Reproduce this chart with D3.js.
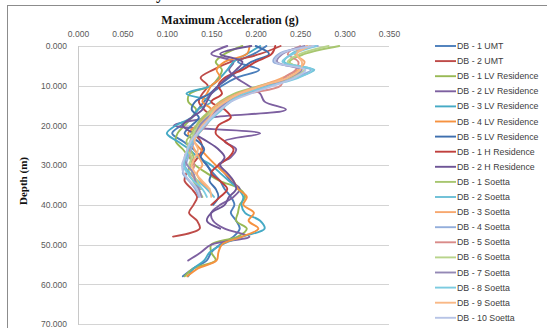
<!DOCTYPE html>
<html>
<head>
<meta charset="utf-8">
<script src="https://cdn.jsdelivr.net/npm/d3@7/dist/d3.min.js"></script>
<style>
  html, body { margin: 0; padding: 0; background: #fff; }
  svg { display: block; }
</style>
</head>
<body>
<svg id="chart" width="547" height="328"></svg>
<script>
// Depth levels (m) at which peak acceleration was sampled
const depths = [0, 2, 4, 6, 8, 10, 12, 14, 16, 18, 20, 22, 24, 26, 28, 30,
                32, 34, 36, 38, 40, 42, 44, 46, 48, 50, 52, 54, 56, 58];

// Maximum acceleration (g) per borehole, one value per depth level
const db1UMT  = [0.212,0.198,0.180,0.204,0.178,0.162,0.150,0.142,0.135,0.128,0.116,0.106,0.118,0.130,0.138,0.145,0.152,0.160,0.165,0.172,0.176,0.172,0.178,0.182,0.175,0.160,0.150,0.145,0.130,0.118];
const db2UMT  = [0.228,0.205,0.172,0.152,0.138,0.146,0.140,0.136,0.142,0.150,0.140,0.132,0.138,0.140,0.135,0.128,0.122,0.120,0.128,0.134,0.130,0.125,0.134,0.137,0.107];
const db1LV   = [0.185,0.165,0.155,0.162,0.158,0.150,0.126,0.124,0.133,0.128,0.120,0.112,0.110,0.118,0.125,0.132,0.145,0.160,0.182,0.188,0.182,0.180,0.178,0.190,0.180,0.150,0.150,0.155,0.130,0.120];
const db2LV   = [0.168,0.150,0.175,0.170,0.178,0.192,0.205,0.210,0.234,0.150,0.108,0.205,0.165,0.178,0.172,0.158,0.165,0.172,0.182,0.175,0.160,0.150,0.152,0.165,0.193,0.150,0.138,0.124];
const db3LV   = [0.205,0.190,0.175,0.168,0.160,0.150,0.122,0.150,0.135,0.128,0.110,0.100,0.112,0.125,0.135,0.150,0.160,0.170,0.180,0.186,0.184,0.188,0.205,0.210,0.185,0.162,0.148,0.142,0.130,0.124];
const db4LV   = [0.193,0.190,0.165,0.156,0.160,0.150,0.145,0.140,0.150,0.142,0.134,0.124,0.130,0.138,0.146,0.155,0.165,0.175,0.180,0.190,0.186,0.198,0.192,0.203,0.185,0.162,0.158,0.156,0.135,0.123];
const db5LV   = [0.200,0.215,0.195,0.182,0.170,0.158,0.148,0.132,0.128,0.136,0.128,0.120,0.135,0.142,0.138,0.145,0.150,0.148,0.155,0.158,0.152];
const db1H    = [0.222,0.218,0.200,0.185,0.165,0.158,0.162,0.150,0.165,0.172,0.158,0.155,0.165,0.175,0.170,0.158,0.150,0.160,0.168,0.160,0.150];
const db2H    = [0.195,0.160,0.185,0.178,0.168,0.158,0.150,0.145,0.140,0.128,0.118,0.130,0.145,0.158,0.165,0.160,0.168,0.175,0.178,0.170,0.165,0.150,0.145,0.160];
const db1S    = [0.294,0.255,0.238,0.250,0.236,0.205,0.176,0.160,0.150,0.140,0.133,0.128,0.122,0.126,0.130,0.127,0.124,0.130,0.135,0.140];
const db2S    = [0.262,0.240,0.232,0.266,0.245,0.212,0.185,0.172,0.160,0.150,0.141,0.132,0.127,0.125,0.122,0.120,0.126,0.135,0.145,0.153];
const db3S    = [0.258,0.244,0.255,0.248,0.230,0.206,0.180,0.162,0.150,0.146,0.138,0.133,0.128,0.131,0.136,0.140,0.134,0.138,0.148];
const db4S    = [0.270,0.226,0.220,0.262,0.242,0.218,0.190,0.168,0.156,0.147,0.139,0.134,0.131,0.127,0.124,0.121,0.118,0.125,0.132,0.136];
const db5S    = [0.250,0.236,0.248,0.245,0.232,0.228,0.192,0.165,0.155,0.150,0.144,0.136,0.129,0.125,0.127,0.131,0.128,0.133,0.138];
const db6S    = [0.282,0.250,0.236,0.255,0.238,0.210,0.183,0.165,0.153,0.144,0.136,0.130,0.126,0.123,0.128,0.125,0.129,0.134,0.139];
const db7S    = [0.255,0.230,0.224,0.252,0.236,0.214,0.186,0.170,0.158,0.146,0.137,0.133,0.128,0.124,0.120,0.123,0.130,0.132,0.136,0.139];
const db8S    = [0.268,0.242,0.230,0.264,0.248,0.216,0.187,0.171,0.162,0.152,0.143,0.136,0.129,0.124,0.121,0.119,0.123,0.130,0.140,0.145];
const db9S    = [0.262,0.246,0.252,0.250,0.236,0.208,0.182,0.166,0.154,0.148,0.140,0.134,0.131,0.135,0.132,0.128,0.132,0.140,0.148,0.150];
const db10S   = [0.265,0.228,0.222,0.256,0.244,0.220,0.194,0.172,0.160,0.150,0.142,0.134,0.127,0.123,0.120,0.117,0.119,0.126,0.134,0.137];

const seriesNames = [
  "DB - 1 UMT", "DB - 2 UMT", "DB - 1 LV Residence", "DB - 2 LV Residence",
  "DB - 3 LV Residence", "DB - 4 LV Residence", "DB - 5 LV Residence",
  "DB - 1 H Residence", "DB - 2 H Residence", "DB - 1 Soetta", "DB - 2 Soetta",
  "DB - 3 Soetta", "DB - 4 Soetta", "DB - 5 Soetta", "DB - 6 Soetta",
  "DB - 7 Soetta", "DB - 8 Soetta", "DB - 9 Soetta", "DB - 10 Soetta"
];
const seriesValues = [db1UMT, db2UMT, db1LV, db2LV, db3LV, db4LV, db5LV, db1H, db2H,
                      db1S, db2S, db3S, db4S, db5S, db6S, db7S, db8S, db9S, db10S];
const seriesColors = [
  "#4a7ebb", "#be4b48", "#98b954", "#7d60a0", "#46aac5", "#f69240", "#3f6fae",
  "#c0403d", "#6e5596", "#a7c66f", "#6cbfd6", "#f7a86f", "#93aedb", "#d98b89",
  "#b8d48b", "#9488b5", "#7ccbe0", "#f9b886", "#b7c4e6"
];

const xTicks = [0, 0.05, 0.10, 0.15, 0.20, 0.25, 0.30, 0.35];
const yTicks = [0, 10, 20, 30, 40, 50, 60, 70];

const svg = d3.select("#chart");
const plot = { left: 78, right: 389, top: 46, bottom: 324 };

const x = d3.scaleLinear().domain([0, 0.35]).range([plot.left, plot.right]);
const y = d3.scaleLinear().domain([0, 70]).range([plot.top, plot.bottom]);

// Chart frame
svg.append("rect")
  .attr("x", 7.5).attr("y", 5.5).attr("width", 600).attr("height", 400)
  .attr("fill", "none").attr("stroke", "#8c8c8c").attr("stroke-width", 1);

// Descender of the caption line above the chart
svg.append("text")
  .attr("x", 156).attr("y", -1)
  .attr("font-family", "Liberation Serif, serif").attr("font-weight", "bold")
  .attr("font-size", 16).attr("fill", "#111").text("y");

// Horizontal gridlines
svg.append("g")
  .selectAll("line").data(yTicks).join("line")
  .attr("x1", plot.left).attr("x2", plot.right)
  .attr("y1", d => Math.round(y(d)) + 0.5).attr("y2", d => Math.round(y(d)) + 0.5)
  .attr("stroke", "#d4d4d4").attr("stroke-width", 1);

// Value axis line on the left
svg.append("line")
  .attr("x1", plot.left + 0.5).attr("x2", plot.left + 0.5)
  .attr("y1", plot.top).attr("y2", plot.bottom + 1)
  .attr("stroke", "#c8c8c8");

// Top axis (acceleration)
const xAxis = d3.axisTop(x).tickValues(xTicks).tickFormat(d3.format(".3f")).tickSize(0).tickPadding(0);
const gx = svg.append("g").attr("transform", `translate(0,${plot.top - 9})`).call(xAxis);
gx.select(".domain").remove();
gx.selectAll("text")
  .attr("font-family", "Liberation Sans, Arial, sans-serif")
  .attr("font-size", 8.5).attr("fill", "#595959");

// Left axis (depth)
const yAxis = d3.axisLeft(y).tickValues(yTicks).tickFormat(d3.format(".3f")).tickSize(0).tickPadding(0);
const gy = svg.append("g").attr("transform", `translate(${plot.left - 11},0)`).call(yAxis);
gy.select(".domain").remove();
gy.selectAll("text")
  .attr("font-family", "Liberation Sans, Arial, sans-serif")
  .attr("font-size", 8.5).attr("fill", "#595959");

// Axis titles
svg.append("text")
  .attr("x", 230).attr("y", 24).attr("text-anchor", "middle")
  .attr("font-family", "Liberation Serif, 'Times New Roman', serif")
  .attr("font-weight", "bold").attr("font-size", 12).attr("fill", "#111")
  .text("Maximum Acceleration (g)");

svg.append("text")
  .attr("transform", "translate(27,181) rotate(-90)")
  .attr("text-anchor", "middle")
  .attr("font-family", "Liberation Serif, 'Times New Roman', serif")
  .attr("font-weight", "bold").attr("font-size", 11).attr("fill", "#111")
  .text("Depth (m)");

// Depth profiles
const line = d3.line()
  .x(d => x(d.acc))
  .y(d => y(d.depth))
  .curve(d3.curveCatmullRom.alpha(0.5));

const profiles = seriesValues.map((vals, i) => ({
  name: seriesNames[i],
  color: seriesColors[i],
  points: vals.map((v, j) => ({ depth: depths[j], acc: v }))
}));

svg.append("g")
  .selectAll("path").data(profiles).join("path")
  .attr("d", d => line(d.points))
  .attr("fill", "none")
  .attr("stroke", d => d.color)
  .attr("stroke-width", 1.9)
  .attr("stroke-linejoin", "round")
  .attr("stroke-linecap", "round");

// Legend
const legend = svg.append("g").attr("transform", "translate(435,46)");
const items = legend.selectAll("g").data(profiles).join("g")
  .attr("transform", (d, i) => `translate(0,${i * 15.1})`);
items.append("line")
  .attr("x1", 0).attr("x2", 21).attr("y1", 0).attr("y2", 0)
  .attr("stroke", d => d.color).attr("stroke-width", 1.9);
items.append("text")
  .attr("x", 22).attr("y", 3)
  .attr("font-family", "Liberation Sans, Arial, sans-serif")
  .attr("font-size", 8.8).attr("fill", "#404040")
  .text(d => d.name);
</script>
</body>
</html>
